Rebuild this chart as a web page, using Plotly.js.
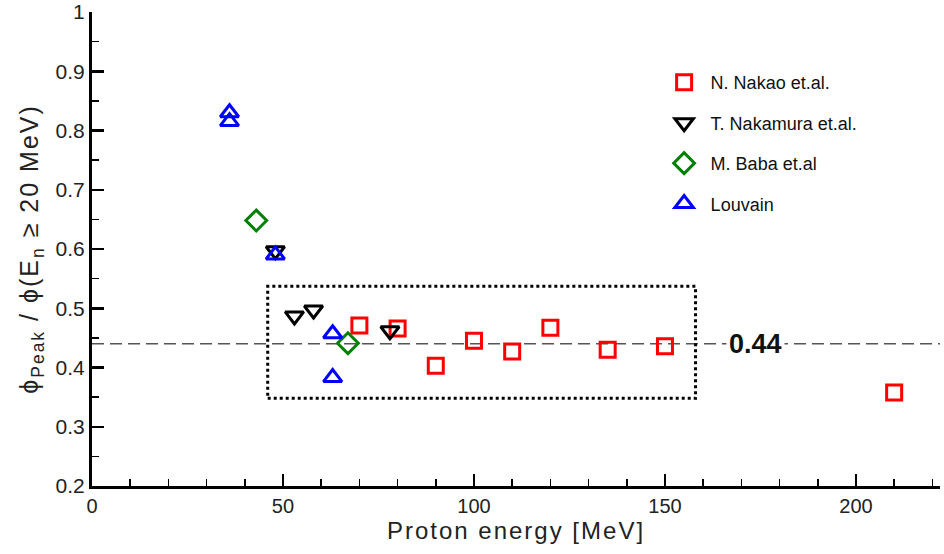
<!DOCTYPE html>
<html>
<head>
<meta charset="utf-8">
<script src="https://cdn.plot.ly/plotly-3.0.1.min.js"></script>
<style>
  html, body { margin: 0; padding: 0; background: #fff; }
  #chart { width: 944px; height: 554px; }
  #chart .xtitle { letter-spacing: 2px; }
  #chart .ytitle { letter-spacing: 2px; }
</style>
</head>
<body>
<div id="chart"></div>
<script>
// Ratio of peak neutron flux to flux above 20 MeV, by proton energy
const nakaoE    = [70, 80, 90, 100, 110, 120, 135, 150, 210];
const nakaoR    = [0.471, 0.466, 0.403, 0.445, 0.427, 0.467, 0.430, 0.436, 0.358];

const nakamuraE = [48, 53, 58, 78];
const nakamuraR = [0.597, 0.487, 0.497, 0.462];

const babaE     = [43, 67];
const babaR     = [0.648, 0.441];

const louvainE  = [36, 36, 48, 63, 63];
const louvainR  = [0.830, 0.815, 0.590, 0.457, 0.383];

const meanRatio = 0.44;
const meanLabel = '0.44';

// Region of the common energy window (dotted box)
const boxE = [46, 158];
const boxR = [0.348, 0.537];

const xTicks = [0, 50, 100, 150, 200];
const yTicks = [0.2, 0.3, 0.4, 0.5, 0.6, 0.7, 0.8, 0.9, 1];
const yTickText = ['0.2', '0.3', '0.4', '0.5', '0.6', '0.7', '0.8', '0.9', '1'];

const FONT = 'Liberation Sans, Arial, Helvetica, sans-serif';

function series(name, x, y, symbol, color, size, group) {
  return {
    type: 'scatter', mode: 'markers', name: name, x: x, y: y,
    legendgroup: group, cliponaxis: false,
    marker: { symbol: symbol, size: size, color: color,
              line: { color: color, width: 3 } }
  };
}

const traces = [
  series('N. Nakao et.al.', nakaoE, nakaoR, 'square-open', '#ff0000', 15, 'a'),
  series('T. Nakamura et.al.', nakamuraE, nakamuraR, 'triangle-down-open', '#000000', 16, 'b'),
  series('M. Baba et.al', babaE, babaR, 'diamond-open', '#008000', 16, 'c'),
  series('Louvain', louvainE, louvainR, 'triangle-up-open', '#0000ff', 16, 'd')
];

const layout = {
  width: 944, height: 554,
  margin: { l: 92, r: 4, t: 12, b: 68 },
  paper_bgcolor: '#fff', plot_bgcolor: '#fff',
  font: { family: FONT, color: '#111', size: 18 },
  showlegend: true,
  legend: {
    x: 0.667, y: 0.89, xanchor: 'left', yanchor: 'top',
    font: { family: FONT, size: 18, color: '#111' },
    itemwidth: 43, tracegroupgap: 14, bgcolor: 'rgba(0,0,0,0)'
  },
  xaxis: {
    range: [0, 222], tickvals: xTicks, ticktext: xTicks.map(String),
    showgrid: false, zeroline: false,
    showline: true, linecolor: '#000', linewidth: 3,
    ticks: 'inside', ticklen: 12, tickwidth: 2.5, tickcolor: '#000',
    minor: { dtick: 10, ticks: 'inside', ticklen: 7, tickwidth: 1.5, tickcolor: '#000', showgrid: false },
    tickfont: { family: FONT, size: 20, color: '#222' },
    title: { text: 'Proton energy [MeV]', font: { family: FONT, size: 24, color: '#222' }, standoff: 6 }
  },
  yaxis: {
    range: [0.2, 1], tickvals: yTicks, ticktext: yTickText,
    showgrid: false, zeroline: false,
    showline: true, linecolor: '#000', linewidth: 3,
    ticks: 'inside', ticklen: 12, tickwidth: 2.5, tickcolor: '#000',
    minor: { dtick: 0.05, ticks: 'inside', ticklen: 7, tickwidth: 1.5, tickcolor: '#000', showgrid: false },
    tickfont: { family: FONT, size: 21, color: '#222' },
    title: { text: 'ϕ<sub>Peak</sub> / ϕ(E<sub>n</sub> ≥ 20 MeV)', font: { family: FONT, size: 25, color: '#222' }, standoff: 10 }
  },
  shapes: [
    { type: 'line', xref: 'paper', x0: 0, x1: 1, yref: 'y', y0: meanRatio, y1: meanRatio,
      line: { color: '#555', width: 1.5, dash: '12px,6px' }, layer: 'below' },
    { type: 'rect', xref: 'x', yref: 'y', x0: boxE[0], x1: boxE[1], y0: boxR[0], y1: boxR[1],
      line: { color: '#000', width: 3, dash: 'dot' }, fillcolor: 'rgba(0,0,0,0)', layer: 'below' }
  ],
  annotations: [
    { x: 173.6, y: meanRatio, xref: 'x', yref: 'y', text: '<b>' + meanLabel + '</b>',
      showarrow: false, bgcolor: '#fff', borderpad: 2,
      font: { family: FONT, size: 27, color: '#111' } }
  ]
};

Plotly.newPlot('chart', traces, layout, { displayModeBar: false, staticPlot: true });
</script>
</body>
</html>
